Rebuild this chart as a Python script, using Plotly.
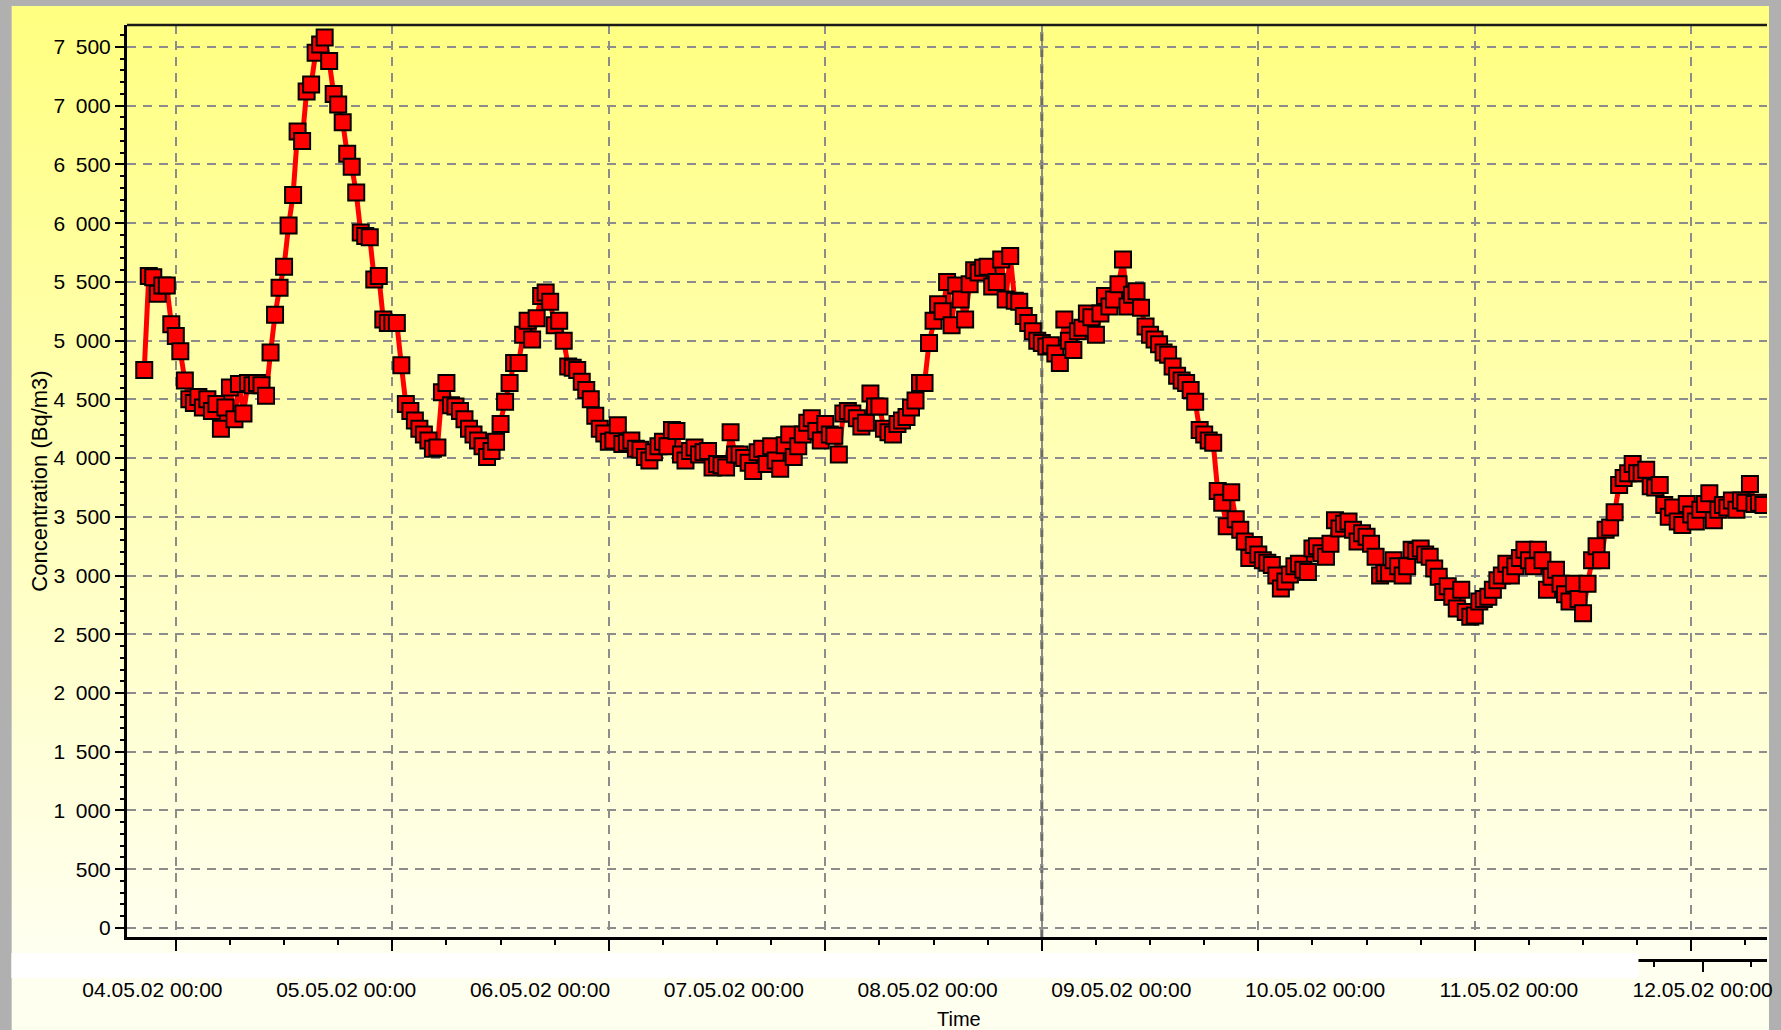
import base64
import pandas as pd
import plotly.graph_objects as go

# ---------------- data ----------------
start_time = "2002-05-03 20:30"
interval = "30min"

concentration = [
    4750, 5550, 5540, 5400, 5470, 5470, 5140, 5040, 4910, 4660,
    4500, 4470, 4520, 4430, 4500, 4400, 4460, 4250, 4430, 4600,
    4330, 4630, 4380, 4640, 4620, 4640, 4620, 4530, 4900, 5220,
    5450, 5630, 5980, 6240, 6780, 6700, 7120, 7180, 7450, 7520,
    7580, 7380, 7100, 7010, 6860, 6590, 6480, 6260, 5920, 5890,
    5880, 5520, 5550, 5180, 5150, 5150, 5150, 4790, 4460, 4400,
    4320, 4250, 4200, 4150, 4080, 4090, 4560, 4640, 4450, 4440,
    4400, 4330, 4250, 4200, 4150, 4100, 4010, 4060, 4140, 4290,
    4480, 4640, 4810, 4810, 5050, 5170, 5010, 5190, 5380, 5410,
    5330, 5130, 5170, 5000, 4780, 4770, 4750, 4650, 4580, 4500,
    4360, 4250, 4210, 4140, 4150, 4280, 4120, 4130, 4150, 4080,
    4070, 4010, 3980, 4050, 4100, 4140, 4100, 4240, 4230, 4030,
    3980, 4060, 4090, 4030, 4050, 4060, 3920, 3950, 3940, 3920,
    4220, 4030, 4030, 4000, 3960, 3890, 4050, 4080, 3950, 4100,
    3980, 3910, 4110, 4200, 4010, 4100, 4200, 4300, 4340, 4230,
    4150, 4290, 4200, 4190, 4030, 4380, 4400, 4380, 4340, 4270,
    4300, 4550, 4440, 4440, 4250, 4220, 4200, 4290, 4320, 4350,
    4430, 4490, 4640, 4640, 4980, 5170, 5310, 5250, 5500, 5130,
    5470, 5350, 5180, 5480, 5600, 5580, 5620, 5630, 5460, 5500,
    5690, 5350, 5720, 5340, 5330, 5210, 5150, 5080, 5000, 4980,
    4950, 4960, 4890, 4810, 5180, 5000, 4920, 5080, 5110, 5230,
    5200, 5050, 5230, 5380, 5290, 5350, 5480, 5690, 5290, 5390,
    5420, 5280, 5120, 5050, 5010, 4970, 4900, 4880, 4780, 4700,
    4660, 4640, 4580, 4480, 4240, 4200, 4150, 4130, 3720, 3620,
    3420, 3710, 3480, 3390, 3290, 3150, 3260, 3180, 3130, 3110,
    3090, 3000, 2890, 2950, 3010, 3080, 3100, 3050, 3030, 3230,
    3250, 3190, 3160, 3270, 3470, 3400, 3440, 3460, 3390, 3290,
    3360, 3330, 3270, 3160, 3000, 3020, 3020, 3130, 3080, 3000,
    3080, 3220, 3210, 3230, 3180, 3160, 3060, 2990, 2860, 2910,
    2820, 2720, 2880, 2690, 2650, 2660, 2780, 2800, 2820, 2880,
    2960, 3000, 3100, 3000, 3080, 3150, 3220, 3130, 3080, 3220,
    3130, 2880, 2990, 3050, 2930, 2840, 2780, 2930, 2800, 2680,
    2930, 3130, 3250, 3130, 3390, 3410, 3540, 3770, 3830, 3870,
    3950, 3870, 3870, 3900, 3760, 3750, 3770, 3600, 3500, 3580,
    3460, 3430, 3610, 3520, 3460, 3560, 3610, 3700, 3470, 3560,
    3600, 3580, 3640, 3560, 3640, 3620, 3780, 3610, 3620, 3600,
]

label_days = ["2002-05-04", "2002-05-05", "2002-05-06", "2002-05-07", "2002-05-08",
              "2002-05-09", "2002-05-10", "2002-05-11", "2002-05-12"]
label_text = ["04.05.02 00:00", "05.05.02 00:00", "06.05.02 00:00", "07.05.02 00:00",
              "08.05.02 00:00", "09.05.02 00:00", "10.05.02 00:00", "11.05.02 00:00",
              "12.05.02 00:00"]

y_title = "Concentration (Bq/m3)"
x_title = "Time"

times = pd.date_range(start=start_time, periods=len(concentration), freq=interval)

# ---------------- geometry ----------------
W, H = 1781, 1030
L, R, T, B = 127, 8, 25, 70
PW = W - L - R
PH = H - T - B


def px_x(p):
    return (p - L) / PW


def px_y(p):
    return (H - B - p) / PH


# background gradient (yellow to ivory)
grad_top, grad_bottom = 6, 1030
stop_frac = (950 - grad_top) / (grad_bottom - grad_top)
svg = (
    '<svg xmlns="http://www.w3.org/2000/svg" width="200" height="200" '
    'viewBox="0 0 200 200" preserveAspectRatio="none">'
    '<defs><linearGradient id="g" x1="0" y1="0" x2="0" y2="1">'
    '<stop offset="0" stop-color="#FFFF80"/>'
    f'<stop offset="{stop_frac:.4f}" stop-color="#FFFFF0"/>'
    '<stop offset="1" stop-color="#FFFFF0"/>'
    '</linearGradient></defs>'
    '<rect x="0" y="0" width="200" height="200" fill="url(#g)"/></svg>'
)
svg_uri = "data:image/svg+xml;base64," + base64.b64encode(svg.encode()).decode()

grid_color = "#8C8C8C"
grid_dash = "9px,7px"
font_family = "Liberation Sans, Arial, sans-serif"

fig = go.Figure()
fig.add_trace(go.Scatter(
    x=times, y=concentration, mode="lines+markers",
    line=dict(color="#FF0000", width=5),
    marker=dict(symbol="square", size=16, color="#FF0000",
                line=dict(color="#000000", width=2)),
    showlegend=False,
))
# carrier for the secondary (label) time axis
fig.add_trace(go.Scatter(
    x=pd.to_datetime(label_days), y=[None] * len(label_days),
    xaxis="x2", yaxis="y", mode="markers", showlegend=False, hoverinfo="skip",
))

fig.update_layout(
    width=W, height=H, autosize=False,
    margin=dict(l=L, r=R, t=T, b=B, pad=0),
    paper_bgcolor="#B0B0B0",
    plot_bgcolor="rgba(0,0,0,0)",
    separators=".\u2002",
    font=dict(family=font_family, size=21, color="#000000"),
    showlegend=False,
    xaxis=dict(
        type="date", domain=[0, 1], anchor="y",
        range=["2002-05-03 18:35:17", "2002-05-11 08:23:30"],
        showline=True, linecolor="#000000", linewidth=3,
        ticks="outside", ticklen=11, tickwidth=2, tickcolor="#000000",
        tick0="2002-05-04", dtick=86400000,
        showticklabels=False,
        showgrid=True, gridcolor=grid_color, gridwidth=2, griddash=grid_dash,
        zeroline=False,
        minor=dict(ticks="outside", ticklen=5, tickwidth=1.5, tickcolor="#000000",
                   tick0="2002-05-04", dtick=21600000, showgrid=False),
    ),
    xaxis2=dict(
        type="date", overlaying="x", anchor="free", position=0, side="bottom",
        range=["2002-05-03 20:51", "2002-05-12 07:58"],
        showline=True, linecolor="#000000", linewidth=3,
        ticks="outside", ticklen=10, tickwidth=2, tickcolor="#000000",
        tickmode="array", tickvals=label_days, ticktext=label_text,
        ticklabelstandoff=0,
        tickfont=dict(size=21),
        showgrid=False, zeroline=False,
        minor=dict(tickmode="linear", ticks="outside", ticklen=5, tickwidth=1.5,
                   tickcolor="#000000", tick0="2002-05-04", dtick=21600000,
                   showgrid=False),
    ),
    yaxis=dict(
        domain=[px_y(937), 1], range=[-77, 7687],
        tick0=0, dtick=500, tickformat=",d",
        tickfont=dict(size=21),
        ticks="outside", ticklen=9, tickwidth=2, tickcolor="#000000",
        showline=True, linecolor="#000000", linewidth=3,
        showgrid=True, gridcolor=grid_color, gridwidth=2, griddash=grid_dash,
        zeroline=False,
        minor=dict(ticks="outside", ticklen=4, tickwidth=1.5, tickcolor="#000000",
                   tick0=0, dtick=100, showgrid=False),
        title=dict(text=y_title, standoff=0, font=dict(size=22)),
    ),
    annotations=[dict(
        text=x_title, xref="paper", yref="paper",
        x=px_x(962), y=px_y(1019), xanchor="center", yanchor="middle",
        showarrow=False, font=dict(size=20),
    )],
    images=[dict(
        source=svg_uri, xref="paper", yref="paper",
        x=px_x(11), y=px_y(grad_top),
        sizex=(1775 - 11) / PW, sizey=(grad_bottom - grad_top) / PH,
        xanchor="left", yanchor="top", sizing="stretch", layer="below",
    )],
    shapes=[
        # top frame line
        dict(type="line", xref="paper", yref="paper", x0=0, x1=1, y0=1, y1=1,
             line=dict(color="#1A1A1A", width=2.5), layer="above"),
        # darker day marker line
        dict(type="line", xref="x", yref="paper", x0="2002-05-08", x1="2002-05-08",
             y0=px_y(937), y1=1, line=dict(color="#6A6A6A", width=3, dash=grid_dash),
             layer="below"),
        # white band over the lower time axis
        dict(type="rect", xref="paper", yref="paper",
             x0=px_x(11), x1=px_x(1644), y0=px_y(978), y1=px_y(953),
             fillcolor="#FFFFFF", line=dict(width=0), layer="above"),
    ],
)

fig.write_html(
    "out.html",
    config={"displayModeBar": False},
    post_script="document.body.style.margin='0';document.body.style.background='#B0B0B0';",
)
